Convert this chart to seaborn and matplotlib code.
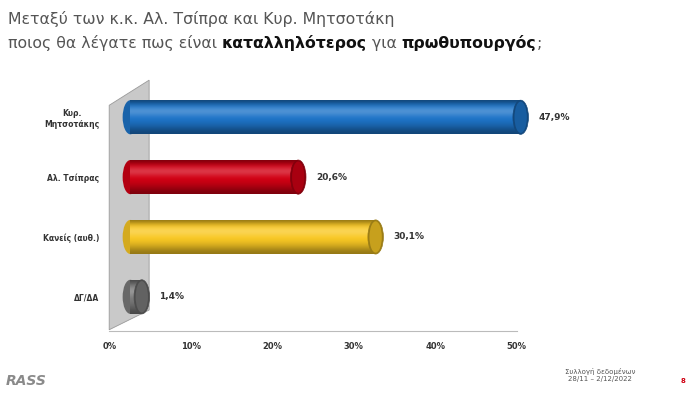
import matplotlib
matplotlib.use("Agg")
import matplotlib.pyplot as plt
import seaborn as sns
import pandas as pd
import numpy as np
from matplotlib.patches import Ellipse, Polygon
import matplotlib.colors as mcolors

# data
categories = ["Κυρ.\nΜητσοτάκης", "Αλ. Τσίπρας", "Κανείς (αυθ.)", "ΔΓ/ΔΑ"]
values = [47.9, 20.6, 30.1, 1.4]
value_labels = ["47,9%", "20,6%", "30,1%", "1,4%"]
colors = ["#1e74c8", "#d20014", "#f9c824", "#7a7a7a"]
xticks = [0, 10, 20, 30, 40, 50]

df = pd.DataFrame({"cat": categories, "val": values})

sns.set_style("white")
plt.rcParams["font.family"] = ["DejaVu Sans"]

fig = plt.figure(figsize=(7, 3.94), dpi=100)
ax = fig.add_axes([0.156, 0.16, 0.582, 0.629])

sns.barplot(data=df, y="cat", x="val", hue="cat", palette=colors, legend=False,
            orient="h", width=0.57, ax=ax, saturation=1, zorder=3)

depth = 2.6   # 3d offset of the bars, in % units
cap_w = 1.9
# vertical shading profile of a cylinder (top -> bottom)
prof = np.array([0.6, 0.88, 1.05, 1.1, 1.05, 1.0, 0.95, 0.85, 0.72, 0.6])
for i, p in enumerate(list(ax.patches)):
    p.set_x(p.get_x() + depth)
    p.set_edgecolor("none")
    p.set_clip_on(False)
    base = np.array(mcolors.to_rgb(colors[i]))
    y0, h = p.get_y(), p.get_height()
    x0, w = p.get_x(), p.get_width()
    grad = np.clip(np.array([base * f if f <= 1 else base + (1 - base) * (f - 1) * 2.5
                             for f in prof]), 0, 1)[:, None, :]
    im = ax.imshow(grad, extent=(x0, x0 + w, y0 + h, y0), aspect="auto",
                   interpolation="bicubic", zorder=3.5)
    im.set_clip_path(p)
    dark = tuple(base * 0.62)
    # rounded left end and darker cap at the right end
    ax.add_patch(Ellipse((x0, y0 + h / 2), cap_w, h, color=tuple(base * 0.85), lw=0,
                         zorder=2.9, clip_on=False))
    ax.add_patch(Ellipse((x0 + w, y0 + h / 2), cap_w, h, facecolor=dark,
                         edgecolor=dark, lw=0.5, zorder=5, clip_on=False))
    ax.add_patch(Ellipse((x0 + w, y0 + h / 2), cap_w * 0.8, h * 0.92,
                         color=tuple(base * 0.8), lw=0, zorder=5, clip_on=False))
    ax.text(x0 + w + cap_w / 2 + 1.2, i, value_labels[i], va="center", ha="left",
            fontsize=6.5, fontweight="bold", color="#333333", zorder=6)

ax.set_xlim(0, 50)
ax.set_ylim(3.57, -0.57)

# grey side wall
wall = Polygon([(0, 3.55), (0, -0.2), (4.9, -0.62), (4.9, 3.22)], closed=True,
               facecolor="#c9c9c9", edgecolor="#9a9a9a", lw=0.6, zorder=1, clip_on=False)
ax.add_patch(wall)

ax.set_xticks(xticks)
ax.set_xticklabels([f"{t}%" for t in xticks], fontsize=6, fontweight="bold", color="#333333")
ax.set_yticks(range(len(categories)))
ax.set_yticklabels(categories, fontsize=5.5, fontweight="bold", color="#333333",
                   multialignment="center")
ax.tick_params(axis="y", length=0, pad=7)
ax.tick_params(axis="x", length=2, color="#bbbbbb", pad=6)
ax.set_xlabel("")
ax.set_ylabel("")
for s in ["top", "right", "left"]:
    ax.spines[s].set_visible(False)
ax.spines["bottom"].set_color("#bbbbbb")
ax.spines["bottom"].set_linewidth(0.8)

# title with mixed bold words
renderer = fig.canvas.get_renderer()
def put_line(parts, y):
    x = 8 / 700
    for txt, bold in parts:
        t = fig.text(x, y, txt, fontsize=11.3, fontweight="bold" if bold else "normal",
                     color="#111111" if bold else "#555555", va="baseline")
        bb = t.get_window_extent(renderer=renderer)
        x += bb.width / fig.bbox.width

put_line([("Μεταξύ των κ.κ. Αλ. Τσίπρα και Κυρ. Μητσοτάκη", False)], 1 - 24 / 394)
put_line([("ποιος θα λέγατε πως είναι ", False), ("καταλληλότερος", True),
          (" για ", False), ("πρωθυπουργός", True), (";", False)], 1 - 48 / 394)

# footer
fig.text(6 / 700, 1 - 385 / 394, "RASS", fontsize=10, fontweight="bold", style="italic",
         color="#8a8a8a")
fig.text(600 / 700, 1 - 375 / 394, "Συλλογή δεδομένων\n28/11 – 2/12/2022", fontsize=5,
         color="#555555", ha="center", va="center", linespacing=1.3)
fig.text(683 / 700, 1 - 381 / 394, "8", fontsize=5, color="#d00012", fontweight="bold",
         ha="center", va="center")

fig.savefig("out.png", dpi=100)
